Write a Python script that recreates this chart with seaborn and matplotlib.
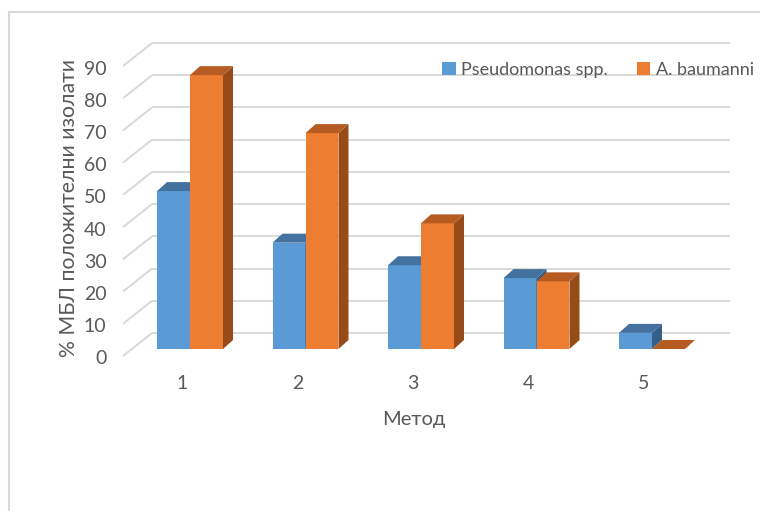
import numpy as np
import pandas as pd
import matplotlib
matplotlib.use("Agg")
import matplotlib.pyplot as plt
import matplotlib.transforms as mtransforms
from matplotlib.patches import Polygon, Patch
from matplotlib.lines import Line2D
import seaborn as sns

# ---- data -------------------------------------------------------------
methods = ["1", "2", "3", "4", "5"]
series = ["Pseudomonas spp.", "A. baumanni"]
pseudomonas = [49, 33, 26, 22, 5]
baumanni = [85, 67, 39, 21, 0]
y_ticks = [0, 10, 20, 30, 40, 50, 60, 70, 80, 90]
x_title = "Метод"
y_title = "% МБЛ положителни изолати"

df = pd.DataFrame({
    "method": methods * 2,
    "series": [series[0]] * len(methods) + [series[1]] * len(methods),
    "value": pseudomonas + baumanni,
})

# ---- style ------------------------------------------------------------
sns.set_theme(style="white")
plt.rcParams["font.family"] = ["Lato", "DejaVu Sans"]
text_color = "#595959"
grid_color = "#D9D9D9"
front = ["#5B9BD5", "#ED7D31"]
top = ["#4472A0", "#B65C22"]
side = ["#355F88", "#974B19"]

W, H = 760, 511
fig = plt.figure(figsize=(W / 100, H / 100), dpi=100)
fig.patch.set_facecolor("white")

# plot box in pixels (from top-left)
L, R, T, B = 112, 740, 30, 362
ax = fig.add_axes([L / W, 1 - B / H, (R - L) / W, (B - T) / H])

# pixel scale of the front plane
x0_px, x_unit = 190.0, 115.5      # centre of first group, px per category
y0_px, y_unit = 349.0, 3.222      # bar base, px per percent

sns.barplot(data=df, x="method", y="value", hue="series",
            order=methods, hue_order=series, palette=front,
            saturation=1, width=0.5714, legend=False, ax=ax,
            edgecolor="none", linewidth=0)

ax.set_xlim((L - x0_px) / x_unit, (R - x0_px) / x_unit)
ax.set_ylim((y0_px - B) / y_unit, (y0_px - T) / y_unit)
for s in ax.spines.values():
    s.set_visible(False)
ax.grid(False)

# depth of the bars (px → data)
ddx = 10 / x_unit
ddy = 9 / y_unit

for k, cont in enumerate(ax.containers):
    zb = 3 + 2 * k
    for p in cont.patches:
        p.set_zorder(zb)
        x = p.get_x()
        w = p.get_width()
        h = p.get_height()
        top_face = Polygon([(x, h), (x + w, h), (x + w + ddx, h + ddy), (x + ddx, h + ddy)],
                           closed=True, facecolor=top[k], edgecolor="none", zorder=zb + 0.5)
        side_face = Polygon([(x + w, 0), (x + w + ddx, ddy), (x + w + ddx, h + ddy), (x + w, h)],
                            closed=True, facecolor=side[k], edgecolor="none", zorder=zb + 0.5)
        ax.add_patch(side_face)
        ax.add_patch(top_face)

# back wall gridlines and their diagonal returns to the front edge
back_left = (152 - x0_px) / x_unit
back_right = (730 - x0_px) / x_unit
front_left = (123 - x0_px) / x_unit
back_rise = 16 / y_unit
front_drop = 23 / y_unit
for v in y_ticks:
    yb = v + back_rise
    ax.add_line(Line2D([back_left, back_right], [yb, yb], color=grid_color,
                       lw=1.4, zorder=1, solid_capstyle="butt"))
    ax.add_line(Line2D([front_left, back_left], [yb - front_drop, yb], color=grid_color,
                       lw=1.4, zorder=1, solid_capstyle="butt"))

# ticks
ax.set_yticks(y_ticks)
ax.set_yticklabels([str(v) for v in y_ticks])
ax.tick_params(axis="y", length=0, pad=4.0, labelsize=14, labelcolor=text_color)
ax.tick_params(axis="x", length=0, pad=9.5, labelsize=14, labelcolor=text_color)
ax.set_xticks(range(len(methods)))
ax.set_xticklabels(methods)
shift_y = mtransforms.ScaledTranslation(0, -8.5 / 100, fig.dpi_scale_trans)
for lab in ax.get_yticklabels():
    lab.set_transform(lab.get_transform() + shift_y)
shift_x = mtransforms.ScaledTranslation(-8 / 100, 0, fig.dpi_scale_trans)
for lab in ax.get_xticklabels():
    lab.set_transform(lab.get_transform() + shift_x)

# axis titles
ax.set_xlabel(x_title, fontsize=14.5, color=text_color, va="center")
ax.xaxis.set_label_coords((414 - L) / (R - L), (B - 420) / (B - T))
ax.set_ylabel(y_title, fontsize=15.3, color=text_color, va="center")
ax.yaxis.set_label_coords((69 - L) / (R - L), (B - 208) / (B - T))

# legend
handles = [Patch(facecolor=c, edgecolor="none") for c in front]
leg = ax.legend(handles, series, ncol=2, frameon=False, fontsize=13,
                handlelength=0.75, handleheight=0.75, handletextpad=0.3,
                columnspacing=1.6, loc="center left",
                bbox_to_anchor=((442 - L) / (R - L), (B - 70) / (B - T)),
                borderaxespad=0, borderpad=0)
for t in leg.get_texts():
    t.set_color(text_color)

# chart frame
fig.add_artist(Line2D([8.5 / W, 8.5 / W], [0, 1 - 12 / H], color=grid_color, lw=1.5,
                      transform=fig.transFigure))
fig.add_artist(Line2D([8.5 / W, 1], [1 - 12 / H, 1 - 12 / H], color=grid_color, lw=1.5,
                      transform=fig.transFigure))

fig.savefig("out.png", dpi=100, facecolor="white")
